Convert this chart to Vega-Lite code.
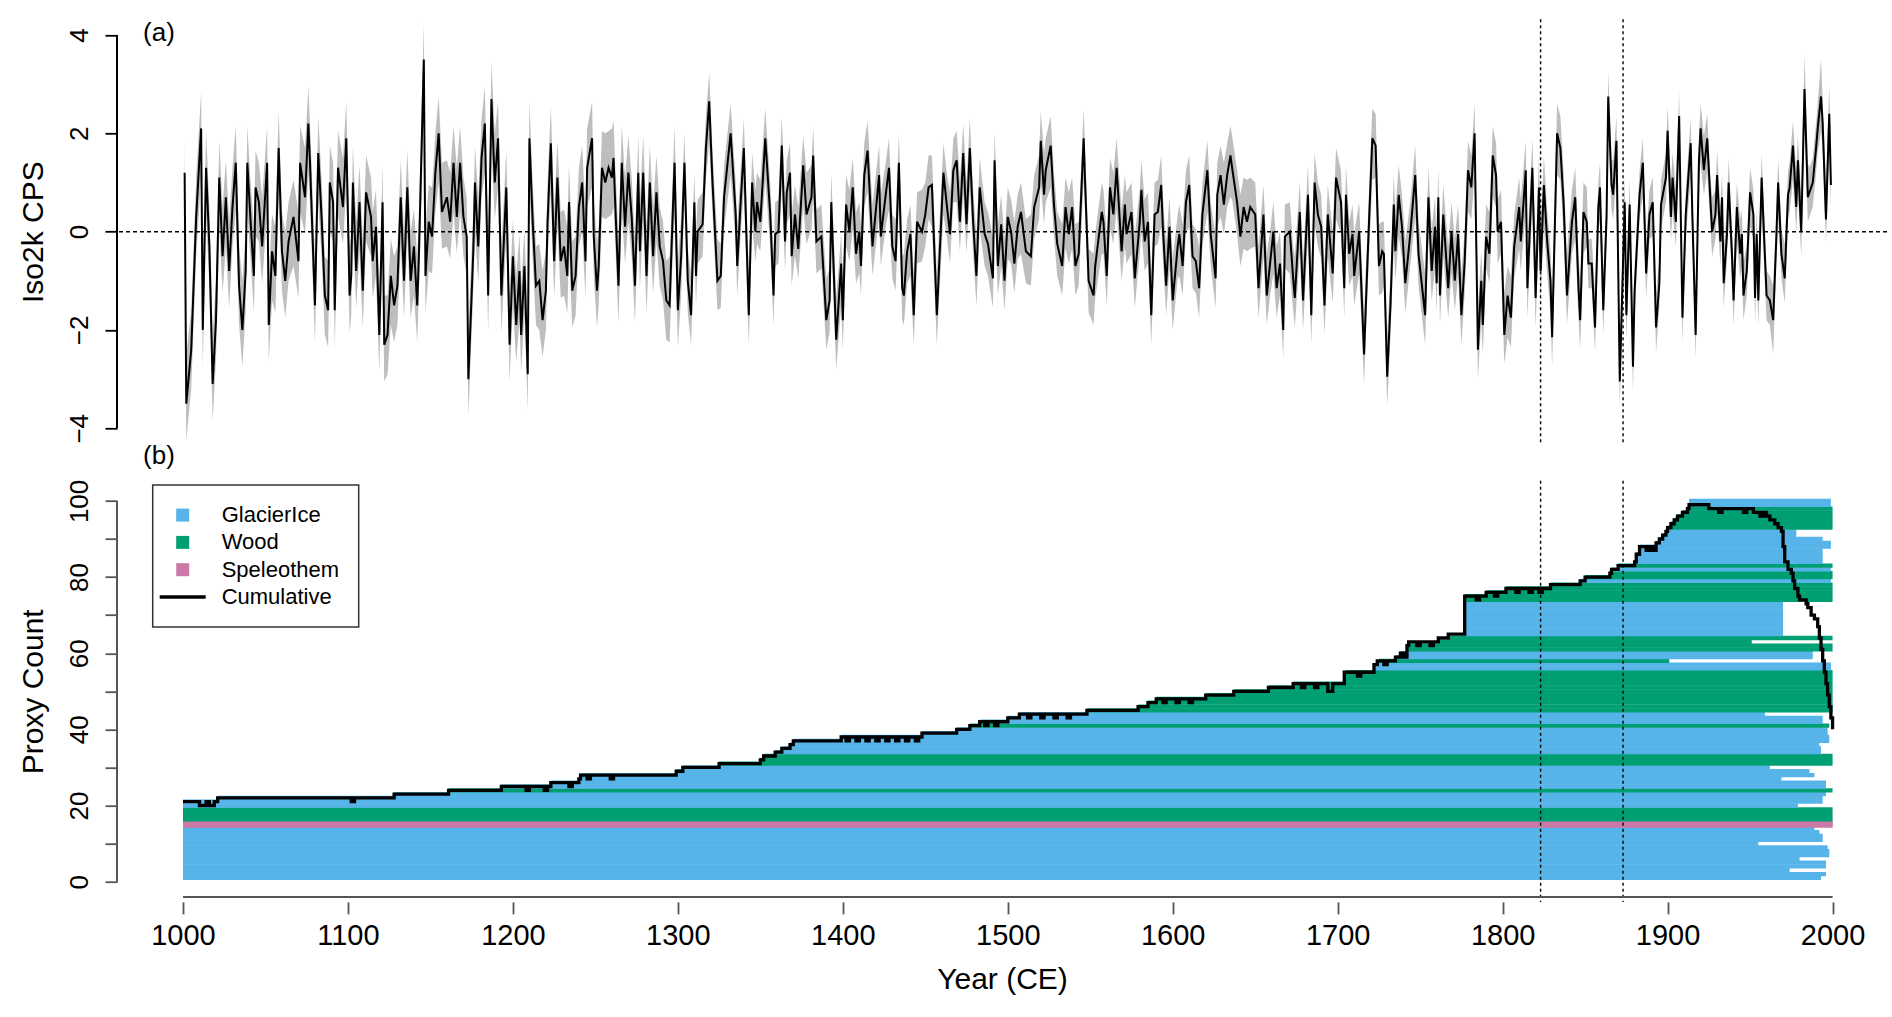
{
  "$schema": "https://vega.github.io/schema/vega-lite/v6.json",
  "background": "white",
  "padding": {"left": 18, "top": 18.3, "right": 0, "bottom": 8},
  "bounds": "flush",
  "spacing": 36.4,
  "config": {
    "view": {"stroke": null},
    "font": "Liberation Sans",
    "axis": {
      "grid": false, "domain": false, "tickSize": 12, "tickWidth": 1.8,
      "labelColor": "#000", "titleColor": "#000", "titleFontWeight": "normal",
      "labelFont": "Liberation Sans", "titleFont": "Liberation Sans"
    }
  },
  "datasets": {
    "series": [
      {"t":1001,"v":1.2,"lo":0.2,"hi":1.95},{"t":1002,"v":-3.5,"lo":-4.25,"hi":-2.5},{"t":1005,"v":-2.4,"lo":-3.2,"hi":-1.6},{"t":1008,"v":0.3,"lo":-0.5,"hi":1.1},
      {"t":1011,"v":2.1,"lo":1.1,"hi":2.85},{"t":1012,"v":-2.0,"lo":-2.75,"hi":-1.0},{"t":1014,"v":1.3,"lo":0.3,"hi":2.05},{"t":1016,"v":-0.3,"lo":-1.1,"hi":0.5},
      {"t":1018,"v":-3.1,"lo":-3.85,"hi":-2.1},{"t":1020,"v":-1.8,"lo":-2.6,"hi":-1.0},{"t":1022,"v":1.1,"lo":0.1,"hi":1.85},{"t":1024,"v":-0.5,"lo":-1.25,"hi":0.5},
      {"t":1026,"v":0.7,"lo":-0.3,"hi":1.45},{"t":1028,"v":-0.8,"lo":-1.55,"hi":0.2},{"t":1030,"v":0.5,"lo":-0.3,"hi":1.3},{"t":1032,"v":1.4,"lo":0.4,"hi":2.15},
      {"t":1034,"v":-1.1,"lo":-1.9,"hi":-0.3},{"t":1036,"v":-2.0,"lo":-2.75,"hi":-1.0},{"t":1038,"v":-0.8,"lo":-1.6,"hi":0.0},{"t":1039,"v":1.4,"lo":0.4,"hi":2.15},
      {"t":1041,"v":0.2,"lo":-0.6,"hi":1.0},{"t":1043,"v":-0.9,"lo":-1.65,"hi":0.1},{"t":1044,"v":0.9,"lo":-0.1,"hi":1.65},{"t":1046,"v":0.6,"lo":-0.2,"hi":1.4},
      {"t":1048,"v":-0.3,"lo":-1.05,"hi":0.7},{"t":1051,"v":1.4,"lo":0.4,"hi":2.15},{"t":1052,"v":-1.9,"lo":-2.65,"hi":-0.9},{"t":1054,"v":-0.4,"lo":-1.4,"hi":0.35},
      {"t":1056,"v":-0.9,"lo":-1.65,"hi":0.1},{"t":1058,"v":1.7,"lo":0.7,"hi":2.45},{"t":1060,"v":-0.4,"lo":-1.2,"hi":0.4},{"t":1062,"v":-1.0,"lo":-1.75,"hi":0.0},
      {"t":1064,"v":-0.2,"lo":-1.0,"hi":0.6},{"t":1067,"v":0.3,"lo":-0.7,"hi":1.05},{"t":1070,"v":-0.6,"lo":-1.35,"hi":0.4},{"t":1071,"v":1.4,"lo":0.4,"hi":2.15},
      {"t":1074,"v":0.7,"lo":-0.05,"hi":1.7},{"t":1076,"v":2.2,"lo":1.2,"hi":2.95},{"t":1077,"v":1.4,"lo":0.6,"hi":2.2},{"t":1080,"v":-1.5,"lo":-2.25,"hi":-0.5},
      {"t":1082,"v":1.6,"lo":0.6,"hi":2.35},{"t":1084,"v":0.3,"lo":-0.5,"hi":1.1},{"t":1086,"v":-1.3,"lo":-2.1,"hi":-0.5},{"t":1088,"v":-1.6,"lo":-2.35,"hi":-0.6},
      {"t":1089,"v":1.0,"lo":0.0,"hi":1.75},{"t":1091,"v":0.6,"lo":-0.2,"hi":1.4},{"t":1092,"v":-1.6,"lo":-2.35,"hi":-0.6},{"t":1094,"v":1.3,"lo":0.3,"hi":2.05},
      {"t":1097,"v":0.5,"lo":-0.25,"hi":1.5},{"t":1099,"v":1.9,"lo":0.9,"hi":2.65},{"t":1101,"v":-1.3,"lo":-2.05,"hi":-0.3},{"t":1102,"v":-0.9,"lo":-1.7,"hi":-0.1},
      {"t":1103,"v":1.0,"lo":0.0,"hi":1.75},{"t":1105,"v":-0.8,"lo":-1.55,"hi":0.2},{"t":1107,"v":0.6,"lo":-0.4,"hi":1.35},{"t":1109,"v":-1.2,"lo":-1.95,"hi":-0.2},
      {"t":1111,"v":0.8,"lo":-0.2,"hi":1.55},{"t":1114,"v":0.3,"lo":-0.5,"hi":1.1},{"t":1115,"v":-0.6,"lo":-1.35,"hi":0.4},{"t":1117,"v":0.1,"lo":-0.9,"hi":0.85},
      {"t":1119,"v":-2.1,"lo":-2.85,"hi":-1.1},{"t":1121,"v":0.6,"lo":-0.4,"hi":1.35},{"t":1122,"v":-2.3,"lo":-3.05,"hi":-1.3},{"t":1124,"v":-2.1,"lo":-2.9,"hi":-1.3},
      {"t":1126,"v":-0.9,"lo":-1.9,"hi":-0.15},{"t":1128,"v":-1.5,"lo":-2.25,"hi":-0.5},{"t":1130,"v":-1.1,"lo":-1.9,"hi":-0.3},{"t":1132,"v":0.7,"lo":-0.3,"hi":1.45},
      {"t":1134,"v":-1.0,"lo":-1.75,"hi":0.0},{"t":1136,"v":0.9,"lo":-0.1,"hi":1.65},{"t":1138,"v":-1.0,"lo":-1.75,"hi":0.0},{"t":1140,"v":-0.3,"lo":-1.3,"hi":0.45},
      {"t":1142,"v":-1.5,"lo":-2.25,"hi":-0.5},{"t":1143,"v":-0.5,"lo":-1.3,"hi":0.3},{"t":1146,"v":3.5,"lo":2.5,"hi":4.25},{"t":1147,"v":-0.9,"lo":-1.65,"hi":0.1},
      {"t":1149,"v":0.2,"lo":-0.8,"hi":0.95},{"t":1151,"v":-0.1,"lo":-0.85,"hi":0.9},{"t":1153,"v":1.2,"lo":0.4,"hi":2.0},{"t":1155,"v":2.0,"lo":1.0,"hi":2.75},
      {"t":1157,"v":0.4,"lo":-0.35,"hi":1.4},{"t":1160,"v":0.7,"lo":-0.3,"hi":1.45},{"t":1162,"v":0.2,"lo":-0.55,"hi":1.2},{"t":1164,"v":1.4,"lo":0.4,"hi":2.15},
      {"t":1166,"v":0.3,"lo":-0.45,"hi":1.3},{"t":1168,"v":1.4,"lo":0.4,"hi":2.15},{"t":1170,"v":0.3,"lo":-0.5,"hi":1.1},{"t":1172,"v":-0.1,"lo":-0.9,"hi":0.7},
      {"t":1173,"v":-3.0,"lo":-3.75,"hi":-2.0},{"t":1176,"v":-0.4,"lo":-1.2,"hi":0.4},{"t":1177,"v":1.0,"lo":0.0,"hi":1.75},{"t":1179,"v":-0.3,"lo":-1.05,"hi":0.7},
      {"t":1181,"v":1.5,"lo":0.7,"hi":2.3},{"t":1183,"v":2.2,"lo":1.2,"hi":2.95},{"t":1185,"v":-1.3,"lo":-2.05,"hi":-0.3},{"t":1187,"v":2.7,"lo":1.7,"hi":3.45},
      {"t":1189,"v":1.0,"lo":0.25,"hi":2.0},{"t":1191,"v":1.9,"lo":0.9,"hi":2.65},{"t":1193,"v":-1.3,"lo":-2.05,"hi":-0.3},{"t":1196,"v":0.9,"lo":-0.1,"hi":1.65},
      {"t":1198,"v":-2.3,"lo":-3.05,"hi":-1.3},{"t":1200,"v":-0.5,"lo":-1.5,"hi":0.25},{"t":1202,"v":-1.9,"lo":-2.65,"hi":-0.9},{"t":1204,"v":-0.8,"lo":-1.8,"hi":-0.05},
      {"t":1205,"v":-2.1,"lo":-2.85,"hi":-1.1},{"t":1207,"v":-0.7,"lo":-1.7,"hi":0.05},{"t":1209,"v":-2.9,"lo":-3.65,"hi":-1.9},{"t":1210,"v":1.9,"lo":0.9,"hi":2.65},
      {"t":1212,"v":0.2,"lo":-0.6,"hi":1.0},{"t":1214,"v":-1.1,"lo":-1.9,"hi":-0.3},{"t":1216,"v":-1.0,"lo":-2.0,"hi":-0.25},{"t":1218,"v":-1.8,"lo":-2.55,"hi":-0.8},
      {"t":1220,"v":-1.2,"lo":-2.0,"hi":-0.4},{"t":1221,"v":0.2,"lo":-0.6,"hi":1.0},{"t":1223,"v":1.8,"lo":0.8,"hi":2.55},{"t":1225,"v":-0.6,"lo":-1.35,"hi":0.4},
      {"t":1227,"v":1.1,"lo":0.1,"hi":1.85},{"t":1229,"v":-0.6,"lo":-1.35,"hi":0.4},{"t":1231,"v":-0.3,"lo":-1.3,"hi":0.45},{"t":1233,"v":-0.9,"lo":-1.65,"hi":0.1},
      {"t":1234,"v":0.6,"lo":-0.4,"hi":1.35},{"t":1236,"v":-1.2,"lo":-1.95,"hi":-0.2},{"t":1238,"v":-0.9,"lo":-1.7,"hi":-0.1},{"t":1240,"v":0.5,"lo":-0.3,"hi":1.3},
      {"t":1242,"v":1.0,"lo":0.0,"hi":1.75},{"t":1244,"v":-0.6,"lo":-1.35,"hi":0.4},{"t":1245,"v":1.3,"lo":0.5,"hi":2.1},{"t":1248,"v":1.9,"lo":0.9,"hi":2.65},
      {"t":1249,"v":-0.1,"lo":-0.9,"hi":0.7},{"t":1251,"v":-1.2,"lo":-1.95,"hi":-0.2},{"t":1252,"v":-0.7,"lo":-1.5,"hi":0.1},{"t":1254,"v":1.3,"lo":0.3,"hi":2.05},
      {"t":1256,"v":1.0,"lo":0.25,"hi":2.0},{"t":1258,"v":1.3,"lo":0.3,"hi":2.05},{"t":1260,"v":1.1,"lo":0.35,"hi":2.1},{"t":1261,"v":1.5,"lo":0.5,"hi":2.25},
      {"t":1262,"v":0.6,"lo":-0.2,"hi":1.4},{"t":1264,"v":-1.1,"lo":-1.85,"hi":-0.1},{"t":1266,"v":1.4,"lo":0.4,"hi":2.15},{"t":1268,"v":0.1,"lo":-0.65,"hi":1.1},
      {"t":1270,"v":1.2,"lo":0.2,"hi":1.95},{"t":1272,"v":0.3,"lo":-0.5,"hi":1.1},{"t":1274,"v":-1.1,"lo":-1.85,"hi":-0.1},{"t":1276,"v":1.2,"lo":0.2,"hi":1.95},
      {"t":1277,"v":-0.4,"lo":-1.15,"hi":0.6},{"t":1279,"v":1.2,"lo":0.2,"hi":1.95},{"t":1281,"v":-0.9,"lo":-1.65,"hi":0.1},{"t":1283,"v":1.0,"lo":0.0,"hi":1.75},
      {"t":1285,"v":-0.5,"lo":-1.25,"hi":0.5},{"t":1287,"v":0.8,"lo":-0.2,"hi":1.55},{"t":1289,"v":-0.3,"lo":-1.1,"hi":0.5},{"t":1291,"v":-0.6,"lo":-1.4,"hi":0.2},
      {"t":1293,"v":-1.4,"lo":-2.2,"hi":-0.6},{"t":1295,"v":-1.5,"lo":-2.25,"hi":-0.5},{"t":1296,"v":-0.5,"lo":-1.3,"hi":0.3},{"t":1298,"v":1.4,"lo":0.4,"hi":2.15},
      {"t":1300,"v":-1.6,"lo":-2.35,"hi":-0.6},{"t":1302,"v":-0.5,"lo":-1.3,"hi":0.3},{"t":1304,"v":1.4,"lo":0.55,"hi":2.0},{"t":1306,"v":-1.0,"lo":-1.65,"hi":-0.35},
      {"t":1308,"v":-1.7,"lo":-2.3,"hi":-0.85},{"t":1310,"v":0.6,"lo":-0.25,"hi":1.2},{"t":1311,"v":-0.9,"lo":-1.5,"hi":-0.05},{"t":1312,"v":0,"lo":-0.65,"hi":0.65},
      {"t":1315,"v":0.15,"lo":-0.5,"hi":0.8},{"t":1317,"v":1.7,"lo":1.05,"hi":2.35},{"t":1319,"v":2.65,"lo":1.8,"hi":3.25},{"t":1321,"v":1.0,"lo":0.35,"hi":1.65},
      {"t":1324,"v":-1.0,"lo":-1.6,"hi":-0.15},{"t":1326,"v":-0.9,"lo":-1.55,"hi":-0.25},{"t":1328,"v":0.7,"lo":0.05,"hi":1.35},{"t":1332,"v":2.0,"lo":1.15,"hi":2.6},
      {"t":1335,"v":0.4,"lo":-0.25,"hi":1.05},{"t":1336,"v":-0.7,"lo":-1.3,"hi":0.15},{"t":1338,"v":0.55,"lo":-0.1,"hi":1.2},{"t":1340,"v":1.7,"lo":0.85,"hi":2.3},
      {"t":1343,"v":-1.7,"lo":-2.3,"hi":-0.85},{"t":1345,"v":1.0,"lo":0.15,"hi":1.6},{"t":1347,"v":0,"lo":-0.6,"hi":0.85},{"t":1348,"v":0.6,"lo":-0.25,"hi":1.2},
      {"t":1350,"v":0.2,"lo":-0.4,"hi":1.05},{"t":1353,"v":1.9,"lo":1.05,"hi":2.5},{"t":1356,"v":0.35,"lo":-0.3,"hi":1.0},{"t":1358,"v":-1.3,"lo":-1.9,"hi":-0.45},
      {"t":1359,"v":-0.05,"lo":-0.7,"hi":0.6},{"t":1361,"v":0,"lo":-0.65,"hi":0.65},{"t":1363,"v":1.75,"lo":0.9,"hi":2.35},{"t":1365,"v":-0.2,"lo":-0.8,"hi":0.65},
      {"t":1366,"v":0.8,"lo":0.15,"hi":1.45},{"t":1368,"v":1.2,"lo":0.35,"hi":1.8},{"t":1369,"v":-0.5,"lo":-1.1,"hi":0.35},{"t":1371,"v":0.35,"lo":-0.5,"hi":0.95},
      {"t":1373,"v":-0.35,"lo":-0.95,"hi":0.5},{"t":1376,"v":1.35,"lo":0.5,"hi":1.95},{"t":1378,"v":0.35,"lo":-0.25,"hi":1.2},{"t":1381,"v":0.7,"lo":0.05,"hi":1.35},
      {"t":1382,"v":1.55,"lo":0.7,"hi":2.15},{"t":1384,"v":-0.2,"lo":-0.85,"hi":0.45},{"t":1387,"v":-0.1,"lo":-0.75,"hi":0.55},{"t":1390,"v":-1.8,"lo":-2.4,"hi":-0.95},
      {"t":1392,"v":-1.4,"lo":-2.05,"hi":-0.75},{"t":1393,"v":0.6,"lo":-0.25,"hi":1.2},{"t":1396,"v":-2.2,"lo":-2.8,"hi":-1.35},{"t":1399,"v":-0.65,"lo":-1.5,"hi":-0.05},
      {"t":1400,"v":-1.8,"lo":-2.4,"hi":-0.95},{"t":1402,"v":0.55,"lo":-0.3,"hi":1.15},{"t":1404,"v":0,"lo":-0.6,"hi":0.85},{"t":1406,"v":0.9,"lo":0.05,"hi":1.5},
      {"t":1408,"v":-0.45,"lo":-1.05,"hi":0.4},{"t":1410,"v":0,"lo":-0.85,"hi":0.6},{"t":1411,"v":-0.7,"lo":-1.3,"hi":0.15},{"t":1413,"v":1.15,"lo":0.5,"hi":1.8},
      {"t":1415,"v":1.65,"lo":0.8,"hi":2.25},{"t":1418,"v":-0.3,"lo":-0.9,"hi":0.55},{"t":1422,"v":1.15,"lo":0.3,"hi":1.75},{"t":1423,"v":-0.1,"lo":-0.7,"hi":0.75},
      {"t":1426,"v":0.75,"lo":0.1,"hi":1.4},{"t":1428,"v":1.3,"lo":0.45,"hi":1.9},{"t":1430,"v":-0.3,"lo":-0.95,"hi":0.35},{"t":1432,"v":-0.6,"lo":-1.2,"hi":0.25},
      {"t":1434,"v":1.4,"lo":0.55,"hi":2.0},{"t":1436,"v":-1.15,"lo":-1.8,"hi":-0.5},{"t":1437,"v":-1.3,"lo":-1.9,"hi":-0.45},{"t":1439,"v":-0.4,"lo":-1.05,"hi":0.25},
      {"t":1441,"v":-0.05,"lo":-0.9,"hi":0.55},{"t":1443,"v":-1.7,"lo":-2.3,"hi":-0.85},{"t":1445,"v":0.2,"lo":-0.65,"hi":0.8},{"t":1448,"v":0,"lo":-0.6,"hi":0.85},
      {"t":1450,"v":0.35,"lo":-0.3,"hi":1.0},{"t":1452,"v":0.9,"lo":0.25,"hi":1.55},{"t":1454,"v":0.95,"lo":0.1,"hi":1.55},{"t":1457,"v":-1.7,"lo":-2.3,"hi":-0.85},
      {"t":1461,"v":1.2,"lo":0.35,"hi":1.8},{"t":1463,"v":0.55,"lo":-0.1,"hi":1.2},{"t":1465,"v":-0.05,"lo":-0.65,"hi":0.8},{"t":1467,"v":1.25,"lo":0.6,"hi":1.9},
      {"t":1469,"v":1.45,"lo":0.6,"hi":2.05},{"t":1471,"v":0.2,"lo":-0.4,"hi":1.05},{"t":1473,"v":1.6,"lo":0.75,"hi":2.2},{"t":1475,"v":0.15,"lo":-0.45,"hi":1.0},
      {"t":1477,"v":1.7,"lo":0.85,"hi":2.3},{"t":1479,"v":0.2,"lo":-0.45,"hi":0.85},{"t":1481,"v":-0.9,"lo":-1.5,"hi":-0.05},{"t":1483,"v":0.9,"lo":0.05,"hi":1.5},
      {"t":1486,"v":-0.05,"lo":-0.7,"hi":0.6},{"t":1488,"v":-0.25,"lo":-0.9,"hi":0.4},{"t":1491,"v":-0.95,"lo":-1.55,"hi":-0.1},{"t":1492,"v":1.45,"lo":0.6,"hi":2.05},
      {"t":1494,"v":-0.7,"lo":-1.3,"hi":0.15},{"t":1496,"v":0.15,"lo":-0.7,"hi":0.75},{"t":1498,"v":-1.0,"lo":-1.6,"hi":-0.15},{"t":1500,"v":0.3,"lo":-0.55,"hi":0.9},
      {"t":1502,"v":0,"lo":-0.65,"hi":0.65},{"t":1504,"v":-0.65,"lo":-1.25,"hi":0.2},{"t":1506,"v":0.1,"lo":-0.55,"hi":0.75},{"t":1508,"v":0.4,"lo":-0.45,"hi":1.0},
      {"t":1511,"v":-0.4,"lo":-1.05,"hi":0.25},{"t":1514,"v":-0.5,"lo":-1.1,"hi":0.35},{"t":1516,"v":0.5,"lo":-0.15,"hi":1.15},{"t":1519,"v":0.9,"lo":0.25,"hi":1.55},
      {"t":1520,"v":1.85,"lo":1.0,"hi":2.45},{"t":1522,"v":0.75,"lo":0.15,"hi":1.6},{"t":1523,"v":1.25,"lo":0.6,"hi":1.9},{"t":1526,"v":1.75,"lo":0.9,"hi":2.35},
      {"t":1528,"v":0.55,"lo":-0.1,"hi":1.2},{"t":1530,"v":-0.25,"lo":-0.9,"hi":0.4},{"t":1533,"v":-0.7,"lo":-1.3,"hi":0.15},{"t":1535,"v":0.5,"lo":-0.35,"hi":1.1},
      {"t":1537,"v":-0.05,"lo":-0.65,"hi":0.8},{"t":1539,"v":0.5,"lo":-0.35,"hi":1.1},{"t":1541,"v":-0.7,"lo":-1.3,"hi":0.15},{"t":1543,"v":-0.45,"lo":-1.1,"hi":0.2},
      {"t":1546,"v":1.9,"lo":1.05,"hi":2.5},{"t":1547,"v":0.9,"lo":0.25,"hi":1.55},{"t":1549,"v":-1.0,"lo":-1.65,"hi":-0.35},{"t":1552,"v":-1.3,"lo":-1.9,"hi":-0.45},
      {"t":1553,"v":-0.7,"lo":-1.35,"hi":-0.05},{"t":1557,"v":0.4,"lo":-0.45,"hi":1.0},{"t":1558,"v":0.2,"lo":-0.45,"hi":0.85},{"t":1560,"v":-0.9,"lo":-1.5,"hi":-0.05},
      {"t":1562,"v":0.9,"lo":0.05,"hi":1.5},{"t":1564,"v":0.35,"lo":-0.25,"hi":1.2},{"t":1566,"v":1.3,"lo":0.45,"hi":1.9},{"t":1569,"v":-0.4,"lo":-1.0,"hi":0.45},
      {"t":1571,"v":0.55,"lo":-0.3,"hi":1.15},{"t":1572,"v":-0.05,"lo":-0.65,"hi":0.8},{"t":1575,"v":0.4,"lo":-0.45,"hi":1.0},{"t":1577,"v":-0.95,"lo":-1.55,"hi":-0.1},
      {"t":1580,"v":0.2,"lo":-0.45,"hi":0.85},{"t":1581,"v":0.85,"lo":0.0,"hi":1.45},{"t":1583,"v":-0.2,"lo":-0.8,"hi":0.65},{"t":1585,"v":0.2,"lo":-0.65,"hi":0.8},
      {"t":1587,"v":-1.7,"lo":-2.3,"hi":-0.85},{"t":1589,"v":0.35,"lo":-0.3,"hi":1.0},{"t":1591,"v":0.4,"lo":-0.25,"hi":1.05},{"t":1593,"v":0.95,"lo":0.1,"hi":1.55},
      {"t":1594,"v":0.1,"lo":-0.55,"hi":0.75},{"t":1596,"v":-1.1,"lo":-1.7,"hi":-0.25},{"t":1598,"v":0.1,"lo":-0.75,"hi":0.7},{"t":1600,"v":-1.4,"lo":-2.0,"hi":-0.55},
      {"t":1603,"v":-0.3,"lo":-0.95,"hi":0.35},{"t":1604,"v":-0.05,"lo":-0.9,"hi":0.55},{"t":1606,"v":-0.7,"lo":-1.3,"hi":0.15},{"t":1608,"v":0.6,"lo":-0.05,"hi":1.25},
      {"t":1610,"v":0.95,"lo":0.1,"hi":1.55},{"t":1612,"v":-0.5,"lo":-1.15,"hi":0.15},{"t":1614,"v":-0.6,"lo":-1.25,"hi":0.05},{"t":1616,"v":-1.15,"lo":-1.75,"hi":-0.3},
      {"t":1618,"v":0.35,"lo":-0.3,"hi":1.0},{"t":1621,"v":1.25,"lo":0.4,"hi":1.85},{"t":1623,"v":-0.05,"lo":-0.7,"hi":0.6},{"t":1626,"v":-0.95,"lo":-1.55,"hi":-0.1},
      {"t":1627,"v":0.75,"lo":0.1,"hi":1.4},{"t":1629,"v":1.15,"lo":0.3,"hi":1.75},{"t":1631,"v":0.55,"lo":-0.05,"hi":1.4},{"t":1633,"v":1.15,"lo":0.5,"hi":1.8},
      {"t":1635,"v":1.55,"lo":0.7,"hi":2.15},{"t":1636,"v":1.3,"lo":0.65,"hi":1.95},{"t":1639,"v":0.6,"lo":-0.05,"hi":1.25},{"t":1641,"v":-0.1,"lo":-0.7,"hi":0.75},
      {"t":1643,"v":0.5,"lo":-0.35,"hi":1.1},{"t":1645,"v":0.2,"lo":-0.4,"hi":1.05},{"t":1647,"v":0.5,"lo":-0.35,"hi":1.1},{"t":1650,"v":0.35,"lo":-0.3,"hi":1.0},
      {"t":1652,"v":-1.15,"lo":-1.75,"hi":-0.3},{"t":1655,"v":0.35,"lo":-0.5,"hi":0.95},{"t":1657,"v":-1.3,"lo":-1.9,"hi":-0.45},{"t":1659,"v":-0.65,"lo":-1.3,"hi":0.0},
      {"t":1661,"v":0,"lo":-0.85,"hi":0.6},{"t":1663,"v":-1.15,"lo":-1.75,"hi":-0.3},{"t":1665,"v":-0.65,"lo":-1.3,"hi":0.0},{"t":1667,"v":-2.0,"lo":-2.6,"hi":-1.15},
      {"t":1668,"v":-0.1,"lo":-0.75,"hi":0.55},{"t":1671,"v":0,"lo":-0.85,"hi":0.6},{"t":1673,"v":-0.95,"lo":-1.6,"hi":-0.3},{"t":1674,"v":-1.35,"lo":-1.95,"hi":-0.5},
      {"t":1677,"v":0.4,"lo":-0.45,"hi":1.0},{"t":1679,"v":-1.4,"lo":-2.0,"hi":-0.55},{"t":1682,"v":0.75,"lo":-0.1,"hi":1.35},{"t":1684,"v":-1.7,"lo":-2.3,"hi":-0.85},
      {"t":1686,"v":1.0,"lo":0.15,"hi":1.6},{"t":1688,"v":0.35,"lo":-0.3,"hi":1.0},{"t":1690,"v":0.1,"lo":-0.55,"hi":0.75},{"t":1692,"v":-1.5,"lo":-2.1,"hi":-0.65},
      {"t":1694,"v":0.35,"lo":-0.5,"hi":0.95},{"t":1697,"v":-0.85,"lo":-1.45,"hi":0.0},{"t":1699,"v":1.1,"lo":0.25,"hi":1.7},{"t":1702,"v":0.6,"lo":-0.05,"hi":1.25},
      {"t":1704,"v":-1.15,"lo":-1.75,"hi":-0.3},{"t":1705,"v":0.75,"lo":-0.1,"hi":1.35},{"t":1707,"v":-0.45,"lo":-1.1,"hi":0.2},{"t":1709,"v":-0.05,"lo":-0.9,"hi":0.55},
      {"t":1710,"v":-0.9,"lo":-1.5,"hi":-0.05},{"t":1713,"v":0,"lo":-0.85,"hi":0.6},{"t":1716,"v":-2.5,"lo":-3.1,"hi":-1.65},{"t":1718,"v":-0.65,"lo":-1.3,"hi":0.0},
      {"t":1721,"v":1.9,"lo":1.05,"hi":2.5},{"t":1723,"v":1.75,"lo":1.1,"hi":2.4},{"t":1725,"v":-0.7,"lo":-1.3,"hi":0.15},{"t":1727,"v":-0.4,"lo":-1.25,"hi":0.2},
      {"t":1728,"v":-0.45,"lo":-1.1,"hi":0.2},{"t":1730,"v":-2.95,"lo":-3.55,"hi":-2.1},{"t":1732,"v":-1.5,"lo":-2.15,"hi":-0.85},{"t":1734,"v":0.55,"lo":-0.3,"hi":1.15},
      {"t":1735,"v":-0.4,"lo":-1.0,"hi":0.45},{"t":1737,"v":0.75,"lo":-0.1,"hi":1.35},{"t":1739,"v":0.1,"lo":-0.55,"hi":0.75},{"t":1741,"v":-1.05,"lo":-1.65,"hi":-0.2},
      {"t":1744,"v":-0.05,"lo":-0.7,"hi":0.6},{"t":1747,"v":1.15,"lo":0.3,"hi":1.75},{"t":1749,"v":-0.45,"lo":-1.1,"hi":0.2},{"t":1753,"v":-1.7,"lo":-2.3,"hi":-0.85},
      {"t":1755,"v":0.7,"lo":-0.15,"hi":1.3},{"t":1757,"v":-0.8,"lo":-1.4,"hi":0.05},{"t":1759,"v":0.1,"lo":-0.75,"hi":0.7},{"t":1760,"v":-1.05,"lo":-1.65,"hi":-0.2},
      {"t":1761,"v":0.7,"lo":-0.15,"hi":1.3},{"t":1762,"v":-1.3,"lo":-1.9,"hi":-0.45},{"t":1764,"v":0.35,"lo":-0.5,"hi":0.95},{"t":1767,"v":-1.15,"lo":-1.75,"hi":-0.3},
      {"t":1769,"v":0,"lo":-0.85,"hi":0.6},{"t":1771,"v":-1.0,"lo":-1.6,"hi":-0.15},{"t":1773,"v":-0.05,"lo":-0.9,"hi":0.55},{"t":1775,"v":-1.7,"lo":-2.3,"hi":-0.85},
      {"t":1777,"v":-0.6,"lo":-1.25,"hi":0.05},{"t":1779,"v":1.25,"lo":0.4,"hi":1.85},{"t":1781,"v":0.9,"lo":0.25,"hi":1.55},{"t":1783,"v":2.0,"lo":1.15,"hi":2.6},
      {"t":1785,"v":-2.4,"lo":-3.0,"hi":-1.55},{"t":1787,"v":-1.0,"lo":-1.85,"hi":-0.4},{"t":1788,"v":-1.9,"lo":-2.5,"hi":-1.05},{"t":1790,"v":-0.1,"lo":-0.75,"hi":0.55},
      {"t":1792,"v":-0.45,"lo":-1.05,"hi":0.4},{"t":1794,"v":1.55,"lo":0.7,"hi":2.15},{"t":1796,"v":1.15,"lo":0.5,"hi":1.8},{"t":1797,"v":0,"lo":-0.65,"hi":0.65},
      {"t":1799,"v":0.2,"lo":-0.45,"hi":0.85},{"t":1801,"v":-2.1,"lo":-2.7,"hi":-1.25},{"t":1803,"v":-1.3,"lo":-2.15,"hi":-0.7},{"t":1805,"v":-1.75,"lo":-2.35,"hi":-0.9},
      {"t":1807,"v":-0.3,"lo":-0.95,"hi":0.35},{"t":1810,"v":0.5,"lo":-0.35,"hi":1.1},{"t":1811,"v":-0.2,"lo":-0.8,"hi":0.65},{"t":1814,"v":1.25,"lo":0.4,"hi":1.85},
      {"t":1815,"v":-1.15,"lo":-1.75,"hi":-0.3},{"t":1818,"v":1.3,"lo":0.45,"hi":1.9},{"t":1820,"v":-1.35,"lo":-1.95,"hi":-0.5},{"t":1822,"v":0.9,"lo":0.05,"hi":1.5},
      {"t":1823,"v":-0.8,"lo":-1.4,"hi":0.05},{"t":1825,"v":0.95,"lo":0.1,"hi":1.55},{"t":1827,"v":-0.2,"lo":-0.85,"hi":0.45},{"t":1829,"v":-1.0,"lo":-1.65,"hi":-0.35},
      {"t":1830,"v":-2.15,"lo":-2.75,"hi":-1.3},{"t":1833,"v":2.0,"lo":1.15,"hi":2.6},{"t":1835,"v":1.7,"lo":1.05,"hi":2.35},{"t":1837,"v":0.55,"lo":-0.1,"hi":1.2},
      {"t":1839,"v":-1.3,"lo":-1.9,"hi":-0.45},{"t":1842,"v":0.2,"lo":-0.45,"hi":0.85},{"t":1844,"v":0.7,"lo":-0.15,"hi":1.3},{"t":1846,"v":-1.15,"lo":-1.8,"hi":-0.5},
      {"t":1847,"v":-1.8,"lo":-2.4,"hi":-0.95},{"t":1849,"v":0.4,"lo":-0.45,"hi":1.0},{"t":1851,"v":0.2,"lo":-0.3,"hi":0.9},{"t":1852,"v":-0.65,"lo":-1.15,"hi":-0.15},
      {"t":1854,"v":-0.65,"lo":-1.15,"hi":-0.15},{"t":1856,"v":-1.95,"lo":-2.45,"hi":-1.25},{"t":1858,"v":0.5,"lo":0.0,"hi":1.0},{"t":1859,"v":0.9,"lo":0.2,"hi":1.4},
      {"t":1861,"v":-1.6,"lo":-2.1,"hi":-0.9},{"t":1863,"v":0.3,"lo":-0.2,"hi":0.8},{"t":1864,"v":2.75,"lo":2.05,"hi":3.25},{"t":1866,"v":0.95,"lo":0.45,"hi":1.45},
      {"t":1867,"v":0.75,"lo":0.25,"hi":1.45},{"t":1869,"v":1.85,"lo":1.15,"hi":2.35},{"t":1871,"v":-3.05,"lo":-3.55,"hi":-2.35},{"t":1874,"v":0.6,"lo":-0.1,"hi":1.1},
      {"t":1875,"v":-1.7,"lo":-2.2,"hi":-1.0},{"t":1877,"v":0.55,"lo":-0.15,"hi":1.05},{"t":1879,"v":-2.75,"lo":-3.25,"hi":-2.05},{"t":1880,"v":-1.2,"lo":-1.7,"hi":-0.7},
      {"t":1883,"v":0.75,"lo":0.25,"hi":1.25},{"t":1885,"v":1.4,"lo":0.7,"hi":1.9},{"t":1887,"v":-0.85,"lo":-1.35,"hi":-0.15},{"t":1889,"v":0.35,"lo":-0.15,"hi":0.85},
      {"t":1891,"v":0.6,"lo":-0.1,"hi":1.1},{"t":1893,"v":-1.95,"lo":-2.45,"hi":-1.25},{"t":1895,"v":-1.05,"lo":-1.55,"hi":-0.55},{"t":1896,"v":0.55,"lo":0.05,"hi":1.05},
      {"t":1899,"v":1.1,"lo":0.6,"hi":1.6},{"t":1900,"v":2.05,"lo":1.35,"hi":2.55},{"t":1902,"v":0.3,"lo":-0.2,"hi":1.0},{"t":1903,"v":1.1,"lo":0.4,"hi":1.6},
      {"t":1905,"v":0.2,"lo":-0.3,"hi":0.9},{"t":1907,"v":2.35,"lo":1.65,"hi":2.85},{"t":1909,"v":-1.75,"lo":-2.25,"hi":-1.05},{"t":1911,"v":0.35,"lo":-0.15,"hi":0.85},
      {"t":1914,"v":1.8,"lo":1.1,"hi":2.3},{"t":1915,"v":0.35,"lo":-0.15,"hi":0.85},{"t":1917,"v":-2.1,"lo":-2.6,"hi":-1.4},{"t":1919,"v":1.45,"lo":0.95,"hi":1.95},
      {"t":1920,"v":2.1,"lo":1.4,"hi":2.6},{"t":1922,"v":1.25,"lo":0.75,"hi":1.95},{"t":1924,"v":1.9,"lo":1.2,"hi":2.4},{"t":1926,"v":0.6,"lo":0.1,"hi":1.1},
      {"t":1927,"v":0,"lo":-0.5,"hi":0.7},{"t":1929,"v":0.35,"lo":-0.15,"hi":0.85},{"t":1930,"v":1.15,"lo":0.45,"hi":1.65},{"t":1932,"v":-0.2,"lo":-0.7,"hi":0.5},
      {"t":1933,"v":0.7,"lo":0.0,"hi":1.2},{"t":1934,"v":-1.05,"lo":-1.55,"hi":-0.35},{"t":1936,"v":-0.05,"lo":-0.55,"hi":0.45},{"t":1937,"v":1.0,"lo":0.3,"hi":1.5},
      {"t":1939,"v":-0.45,"lo":-0.95,"hi":0.05},{"t":1940,"v":-1.4,"lo":-1.9,"hi":-0.7},{"t":1942,"v":0.5,"lo":-0.2,"hi":1.0},{"t":1944,"v":-0.45,"lo":-0.95,"hi":0.25},
      {"t":1945,"v":-0.05,"lo":-0.75,"hi":0.45},{"t":1946,"v":-1.3,"lo":-1.8,"hi":-0.6},{"t":1948,"v":-0.8,"lo":-1.3,"hi":-0.3},{"t":1950,"v":0.8,"lo":0.1,"hi":1.3},
      {"t":1952,"v":0.35,"lo":-0.15,"hi":0.85},{"t":1953,"v":-1.35,"lo":-1.85,"hi":-0.65},{"t":1954,"v":-0.05,"lo":-0.75,"hi":0.45},{"t":1955,"v":-1.4,"lo":-1.9,"hi":-0.7},
      {"t":1957,"v":1.1,"lo":0.4,"hi":1.6},{"t":1960,"v":-1.3,"lo":-1.8,"hi":-0.8},{"t":1962,"v":-1.4,"lo":-1.9,"hi":-0.9},{"t":1964,"v":-1.8,"lo":-2.5,"hi":-1.1},
      {"t":1966,"v":-0.05,"lo":-0.55,"hi":0.45},{"t":1967,"v":1.0,"lo":0.3,"hi":1.5},{"t":1969,"v":-0.45,"lo":-0.95,"hi":0.05},{"t":1971,"v":-0.95,"lo":-1.45,"hi":-0.25},
      {"t":1973,"v":0.75,"lo":0.25,"hi":1.25},{"t":1974,"v":0.9,"lo":0.4,"hi":1.4},{"t":1976,"v":1.75,"lo":1.05,"hi":2.25},{"t":1978,"v":0.5,"lo":0.0,"hi":1.2},
      {"t":1979,"v":1.45,"lo":0.75,"hi":1.95},{"t":1981,"v":0,"lo":-0.5,"hi":0.7},{"t":1983,"v":2.9,"lo":2.2,"hi":3.6},{"t":1985,"v":0.7,"lo":0.2,"hi":1.4},
      {"t":1986,"v":0.8,"lo":0.3,"hi":1.3},{"t":1988,"v":1.0,"lo":0.5,"hi":1.5},{"t":1990,"v":1.7,"lo":1.2,"hi":2.2},{"t":1991,"v":2.1,"lo":1.6,"hi":2.6},
      {"t":1993,"v":2.75,"lo":2.05,"hi":3.5},{"t":1994,"v":2.2,"lo":1.7,"hi":2.7},{"t":1996,"v":0.25,"lo":-0.25,"hi":0.95},{"t":1998,"v":2.4,"lo":1.7,"hi":3.0},
      {"t":1999,"v":0.95,"lo":0.45,"hi":1.45}
    ],
    "records": [
      {"k":1,"a":"GlacierIce","s":1000,"e":1993},{"k":2,"a":"GlacierIce","s":1000,"e":1996},{"k":3,"a":"GlacierIce","s":1000,"e":1974},
      {"k":4,"a":"GlacierIce","s":1000,"e":1996},{"k":5,"a":"GlacierIce","s":1000,"e":1996},{"k":6,"a":"GlacierIce","s":1000,"e":1980},
      {"k":7,"a":"GlacierIce","s":1000,"e":1998},{"k":8,"a":"GlacierIce","s":1000,"e":1998},{"k":9,"a":"GlacierIce","s":1000,"e":1997},
      {"k":10,"a":"GlacierIce","s":1000,"e":1955},{"k":11,"a":"GlacierIce","s":1000,"e":1994},{"k":12,"a":"GlacierIce","s":1000,"e":1994},
      {"k":13,"a":"GlacierIce","s":1000,"e":1992},{"k":14,"a":"GlacierIce","s":1000,"e":1989},{"k":15,"a":"Speleothem","s":1000,"e":2000},
      {"k":16,"a":"Wood","s":1000,"e":2000},{"k":17,"a":"Wood","s":1000,"e":2000},{"k":18,"a":"Wood","s":1000,"e":2000},
      {"k":19,"a":"Wood","s":1000,"e":2000},{"k":20,"a":"GlacierIce","s":1000,"e":1979},{"k":21,"a":"GlacierIce","s":1000,"e":1994},
      {"k":22,"a":"GlacierIce","s":1021,"e":1994},{"k":23,"a":"GlacierIce","s":1128,"e":1996},{"k":24,"a":"Wood","s":1161,"e":2000},
      {"k":25,"a":"GlacierIce","s":1193,"e":1996},{"k":26,"a":"GlacierIce","s":1223,"e":1996},{"k":27,"a":"GlacierIce","s":1240,"e":1969},
      {"k":28,"a":"GlacierIce","s":1241,"e":1989},{"k":29,"a":"GlacierIce","s":1299,"e":1986},{"k":30,"a":"GlacierIce","s":1303,"e":1962},
      {"k":31,"a":"Wood","s":1325,"e":2000},{"k":32,"a":"Wood","s":1350,"e":2000},{"k":33,"a":"Wood","s":1352,"e":2000},
      {"k":34,"a":"GlacierIce","s":1359,"e":1993},{"k":35,"a":"GlacierIce","s":1363,"e":1993},{"k":36,"a":"GlacierIce","s":1368,"e":1992},
      {"k":37,"a":"GlacierIce","s":1370,"e":1998},{"k":38,"a":"GlacierIce","s":1399,"e":1998},{"k":39,"a":"GlacierIce","s":1448,"e":1997},
      {"k":40,"a":"GlacierIce","s":1469,"e":1997},{"k":41,"a":"Wood","s":1477,"e":1998},{"k":42,"a":"GlacierIce","s":1483,"e":1994},
      {"k":43,"a":"GlacierIce","s":1500,"e":1994},{"k":44,"a":"GlacierIce","s":1507,"e":1959},{"k":45,"a":"Wood","s":1548,"e":2000},
      {"k":46,"a":"Wood","s":1579,"e":2000},{"k":47,"a":"Wood","s":1585,"e":2000},{"k":48,"a":"Wood","s":1590,"e":2000},
      {"k":49,"a":"Wood","s":1620,"e":2000},{"k":50,"a":"Wood","s":1637,"e":2000},{"k":51,"a":"Wood","s":1658,"e":2000},
      {"k":52,"a":"Wood","s":1673,"e":2000},{"k":53,"a":"Wood","s":1704,"e":2000},{"k":54,"a":"Wood","s":1704,"e":2000},
      {"k":55,"a":"Wood","s":1705,"e":2000},{"k":56,"a":"GlacierIce","s":1722,"e":1999},{"k":57,"a":"GlacierIce","s":1724,"e":1999},
      {"k":58,"a":"Wood","s":1725,"e":1901},{"k":59,"a":"GlacierIce","s":1735,"e":1988},{"k":60,"a":"GlacierIce","s":1738,"e":1988},
      {"k":61,"a":"Wood","s":1742,"e":2000},{"k":62,"a":"Wood","s":1743,"e":2000},{"k":63,"a":"Wood","s":1761,"e":1951},
      {"k":64,"a":"Wood","s":1767,"e":2000},{"k":65,"a":"GlacierIce","s":1777,"e":1970},{"k":66,"a":"GlacierIce","s":1777,"e":1970},
      {"k":67,"a":"GlacierIce","s":1777,"e":1970},{"k":68,"a":"GlacierIce","s":1777,"e":1970},{"k":69,"a":"GlacierIce","s":1777,"e":1970},
      {"k":70,"a":"GlacierIce","s":1777,"e":1970},{"k":71,"a":"GlacierIce","s":1777,"e":1970},{"k":72,"a":"GlacierIce","s":1777,"e":1970},
      {"k":73,"a":"GlacierIce","s":1777,"e":1970},{"k":74,"a":"Wood","s":1777,"e":2000},{"k":75,"a":"Wood","s":1777,"e":2000},
      {"k":76,"a":"Wood","s":1790,"e":2000},{"k":77,"a":"Wood","s":1802,"e":2000},{"k":78,"a":"Wood","s":1829,"e":2000},
      {"k":79,"a":"GlacierIce","s":1847,"e":1999},{"k":80,"a":"Wood","s":1850,"e":2000},{"k":81,"a":"Wood","s":1865,"e":2000},
      {"k":82,"a":"GlacierIce","s":1866,"e":1999},{"k":83,"a":"Wood","s":1870,"e":2000},{"k":84,"a":"GlacierIce","s":1880,"e":1994},
      {"k":85,"a":"GlacierIce","s":1881,"e":1994},{"k":86,"a":"GlacierIce","s":1881,"e":1994},{"k":87,"a":"GlacierIce","s":1883,"e":1994},
      {"k":88,"a":"GlacierIce","s":1883,"e":1999},{"k":89,"a":"GlacierIce","s":1893,"e":1999},{"k":90,"a":"GlacierIce","s":1895,"e":1994},
      {"k":91,"a":"GlacierIce","s":1897,"e":1978},{"k":92,"a":"GlacierIce","s":1899,"e":1978},{"k":93,"a":"Wood","s":1900,"e":2000},
      {"k":94,"a":"Wood","s":1902,"e":2000},{"k":95,"a":"Wood","s":1904,"e":2000},{"k":96,"a":"Wood","s":1906,"e":2000},
      {"k":97,"a":"Wood","s":1909,"e":2000},{"k":98,"a":"Wood","s":1912,"e":2000},{"k":99,"a":"GlacierIce","s":1913,"e":1999},
      {"k":100,"a":"GlacierIce","s":1913,"e":1999}
    ],
    "cumul": [
      {"t":1000,"n":21},{"t":1010,"n":20},{"t":1014,"n":21},{"t":1016,"n":20},{"t":1019,"n":21},{"t":1021,"n":22},{"t":1102,"n":21},{"t":1104,"n":22},
      {"t":1128,"n":23},{"t":1161,"n":24},{"t":1193,"n":25},{"t":1208,"n":24},{"t":1210,"n":25},{"t":1219,"n":24},{"t":1221,"n":25},{"t":1223,"n":26},
      {"t":1234,"n":25},{"t":1236,"n":26},{"t":1240,"n":27},{"t":1241,"n":28},{"t":1245,"n":27},{"t":1247,"n":28},{"t":1259,"n":27},{"t":1261,"n":28},
      {"t":1299,"n":29},{"t":1303,"n":30},{"t":1325,"n":31},{"t":1350,"n":32},{"t":1352,"n":33},{"t":1359,"n":34},{"t":1363,"n":35},{"t":1368,"n":36},
      {"t":1370,"n":37},{"t":1399,"n":38},{"t":1402,"n":37},{"t":1404,"n":38},{"t":1408,"n":37},{"t":1410,"n":38},{"t":1414,"n":37},{"t":1416,"n":38},
      {"t":1420,"n":37},{"t":1422,"n":38},{"t":1426,"n":37},{"t":1428,"n":38},{"t":1432,"n":37},{"t":1434,"n":38},{"t":1438,"n":37},{"t":1440,"n":38},
      {"t":1444,"n":37},{"t":1446,"n":38},{"t":1448,"n":39},{"t":1469,"n":40},{"t":1477,"n":41},{"t":1483,"n":42},{"t":1486,"n":41},{"t":1488,"n":42},
      {"t":1492,"n":41},{"t":1494,"n":42},{"t":1500,"n":43},{"t":1507,"n":44},{"t":1512,"n":43},{"t":1514,"n":44},{"t":1520,"n":43},{"t":1522,"n":44},
      {"t":1528,"n":43},{"t":1530,"n":44},{"t":1536,"n":43},{"t":1538,"n":44},{"t":1548,"n":45},{"t":1579,"n":46},{"t":1585,"n":47},{"t":1590,"n":48},
      {"t":1594,"n":47},{"t":1596,"n":48},{"t":1602,"n":47},{"t":1604,"n":48},{"t":1610,"n":47},{"t":1612,"n":48},{"t":1620,"n":49},{"t":1637,"n":50},
      {"t":1658,"n":51},{"t":1673,"n":52},{"t":1678,"n":51},{"t":1680,"n":52},{"t":1686,"n":51},{"t":1688,"n":52},{"t":1694,"n":50},{"t":1697,"n":52},
      {"t":1704,"n":55},{"t":1712,"n":54},{"t":1714,"n":55},{"t":1722,"n":57},{"t":1724,"n":58},{"t":1728,"n":57},{"t":1730,"n":58},{"t":1735,"n":59},
      {"t":1738,"n":60},{"t":1740,"n":59},{"t":1742,"n":62},{"t":1743,"n":63},{"t":1748,"n":62},{"t":1750,"n":63},{"t":1756,"n":62},{"t":1758,"n":63},
      {"t":1761,"n":64},{"t":1767,"n":65},{"t":1777,"n":75},{"t":1784,"n":74},{"t":1786,"n":75},{"t":1790,"n":76},{"t":1795,"n":75},{"t":1797,"n":76},
      {"t":1802,"n":77},{"t":1808,"n":76},{"t":1810,"n":77},{"t":1816,"n":76},{"t":1818,"n":77},{"t":1822,"n":76},{"t":1824,"n":77},{"t":1829,"n":78},
      {"t":1847,"n":79},{"t":1850,"n":80},{"t":1865,"n":81},{"t":1866,"n":82},{"t":1870,"n":83},{"t":1880,"n":84},{"t":1881,"n":86},{"t":1883,"n":88},
      {"t":1887,"n":87},{"t":1889,"n":88},{"t":1891,"n":87},{"t":1893,"n":89},{"t":1895,"n":90},{"t":1897,"n":91},{"t":1899,"n":92},{"t":1900,"n":93},
      {"t":1902,"n":94},{"t":1904,"n":95},{"t":1906,"n":96},{"t":1909,"n":97},{"t":1912,"n":98},{"t":1913,"n":99},{"t":1925,"n":98},{"t":1931,"n":97},
      {"t":1933,"n":98},{"t":1946,"n":97},{"t":1948,"n":98},{"t":1952,"n":97},{"t":1956,"n":96},{"t":1958,"n":97},{"t":1960,"n":96},{"t":1962,"n":95},
      {"t":1965,"n":94},{"t":1967,"n":93},{"t":1969,"n":92},{"t":1970,"n":88},{"t":1971,"n":84},{"t":1973,"n":82},{"t":1975,"n":81},{"t":1976,"n":79},
      {"t":1977,"n":77},{"t":1979,"n":75},{"t":1980,"n":74},{"t":1984,"n":73},{"t":1985,"n":72},{"t":1987,"n":70},{"t":1989,"n":69},{"t":1991,"n":67},
      {"t":1992,"n":64},{"t":1993,"n":61},{"t":1994,"n":58},{"t":1995,"n":55},{"t":1996,"n":52},{"t":1997,"n":49},{"t":1998,"n":46},{"t":1999,"n":43},
      {"t":2000,"n":40}
    ],
    "marks": [{"yr":1823},{"yr":1873}]
  },
  "vconcat": [
    {
      "width": 1770,
      "height": 424.7,
      "data": {"name": "series"},
      "layer": [
        {
          "mark": {"type": "area", "color": "#BEBEBE", "opacity": 1, "interpolate": "linear"},
          "encoding": {
            "x": {"field": "t", "type": "quantitative", "scale": {"domain": [960, 2033], "nice": false, "zero": false}, "axis": null},
            "y": {
              "field": "lo", "type": "quantitative",
              "scale": {"domain": [-4.32, 4.32], "nice": false, "zero": false},
              "axis": {
                "title": "Iso2k CPS", "titleFontSize": 30, "titlePadding": 18,
                "values": [-4, -2, 0, 2, 4], "labelAngle": 270, "labelAlign": "center", "labelBaseline": "alphabetic",
                "labelFontSize": 26, "labelPadding": 17.7, "tickColor": "#000"
              }
            },
            "y2": {"field": "hi"}
          }
        },
        {
          "data": {"values": [{"z": 0}]},
          "mark": {"type": "rule", "color": "#000", "strokeWidth": 1.5, "strokeDash": [4, 3]},
          "encoding": {"y": {"field": "z", "type": "quantitative"}}
        },
        {
          "mark": {"type": "line", "color": "#000", "strokeWidth": 2, "interpolate": "linear"},
          "encoding": {
            "x": {"field": "t", "type": "quantitative"},
            "y": {"field": "v", "type": "quantitative"}
          }
        },
        {
          "data": {"name": "marks"},
          "mark": {"type": "rule", "color": "#000", "strokeWidth": 1.4, "strokeDash": [3, 3]},
          "encoding": {"x": {"field": "yr", "type": "quantitative"}}
        },
        {
          "data": {"values": [{"x": 960, "y": -4, "y2": 4}]},
          "mark": {"type": "rule", "color": "#000", "strokeWidth": 2},
          "encoding": {
            "x": {"field": "x", "type": "quantitative"},
            "y": {"field": "y", "type": "quantitative"},
            "y2": {"field": "y2"}
          }
        },
        {
          "data": {"values": [{}]},
          "mark": {"type": "text", "text": "(a)", "align": "left", "baseline": "alphabetic", "fontSize": 26, "font": "Liberation Sans", "color": "#000"},
          "encoding": {
            "x": {"datum": 975.8, "type": "quantitative"},
            "y": {"datum": 3.87, "type": "quantitative"}
          }
        }
      ]
    },
    {
      "width": 1770,
      "height": 421.2,
      "layer": [
        {
          "data": {"name": "records"},
          "mark": {"type": "bar", "orient": "horizontal", "size": 4.3},
          "encoding": {
            "x": {
              "field": "s", "type": "quantitative",
              "scale": {"domain": [960, 2033], "nice": false, "zero": false},
              "axis": {
                "title": "Year (CE)", "titleFontSize": 30, "titlePadding": 14,
                "values": [1000, 1100, 1200, 1300, 1400, 1500, 1600, 1700, 1800, 1900, 2000], "format": "d",
                "labelFontSize": 29, "labelPadding": 8, "tickColor": "#555"
              }
            },
            "x2": {"field": "e"},
            "y": {
              "field": "k", "type": "quantitative",
              "scale": {"domain": [-4, 104], "nice": false, "zero": false},
              "axis": {
                "title": "Proxy Count", "titleFontSize": 30, "titlePadding": 18,
                "values": [0, 10, 20, 30, 40, 50, 60, 70, 80, 90, 100],
                "labelExpr": "datum.value % 20 === 0 ? datum.label : ''",
                "labelAngle": 270, "labelAlign": "center", "labelBaseline": "alphabetic",
                "labelFontSize": 26, "labelPadding": 17.7, "tickColor": "#555"
              }
            },
            "color": {
              "field": "a", "type": "nominal",
              "scale": {"domain": ["GlacierIce", "Wood", "Speleothem", "Cumulative"], "range": ["#56B4E9", "#009E73", "#CC79A7", "#000000"]},
              "legend": {
                "title": null, "orient": "none", "legendX": 35.7, "legendY": 465.8,
                "labelFontSize": 22, "labelFont": "Liberation Sans", "labelColor": "#000",
                "symbolSize": 169, "labelOffset": 28, "padding": 19, "rowPadding": 5.3,
                "strokeColor": "#333",
                "encode": {
                  "symbols": {"update": {
                    "shape": {"signal": "datum.label === 'Cumulative' ? 'M-3.54,0H3.54' : 'square'"},
                    "stroke": {"signal": "datum.label === 'Cumulative' ? '#000' : 'transparent'"},
                    "strokeWidth": {"signal": "datum.label === 'Cumulative' ? 3.3 : 0"}
                  }},
                  "legend": {"update": {"strokeWidth": {"value": 1.5}}}
                }
              }
            }
          }
        },
        {
          "data": {"name": "records"},
          "transform": [{"filter": "datum.a === 'Speleothem'"}],
          "mark": {"type": "bar", "orient": "horizontal", "size": 6.2, "color": "#CC79A7"},
          "encoding": {
            "x": {"field": "s", "type": "quantitative"},
            "x2": {"field": "e"},
            "y": {"field": "k", "type": "quantitative"}
          }
        },
        {
          "data": {"name": "marks"},
          "mark": {"type": "rule", "color": "#000", "strokeWidth": 1.4, "strokeDash": [3, 3]},
          "encoding": {"x": {"field": "yr", "type": "quantitative"}}
        },
        {
          "data": {"name": "cumul"},
          "mark": {"type": "line", "color": "#000", "strokeWidth": 3.3, "interpolate": "step-after"},
          "encoding": {
            "x": {"field": "t", "type": "quantitative"},
            "y": {"field": "n", "type": "quantitative"}
          }
        },
        {
          "data": {"values": [{"x": 960, "y": 0, "y2": 100}]},
          "mark": {"type": "rule", "color": "#555", "strokeWidth": 2},
          "encoding": {
            "x": {"field": "x", "type": "quantitative"},
            "y": {"field": "y", "type": "quantitative"},
            "y2": {"field": "y2"}
          }
        },
        {
          "data": {"values": [{"x": 1000, "x2": 2000, "y": -4}]},
          "mark": {"type": "rule", "color": "#555", "strokeWidth": 2},
          "encoding": {
            "x": {"field": "x", "type": "quantitative"},
            "x2": {"field": "x2"},
            "y": {"field": "y", "type": "quantitative"}
          }
        },
        {
          "data": {"values": [{}]},
          "mark": {"type": "text", "text": "(b)", "align": "left", "baseline": "alphabetic", "fontSize": 26, "font": "Liberation Sans", "color": "#000"},
          "encoding": {
            "x": {"datum": 975.8, "type": "quantitative"},
            "y": {"datum": 109.6, "type": "quantitative"}
          }
        }
      ]
    }
  ]
}
